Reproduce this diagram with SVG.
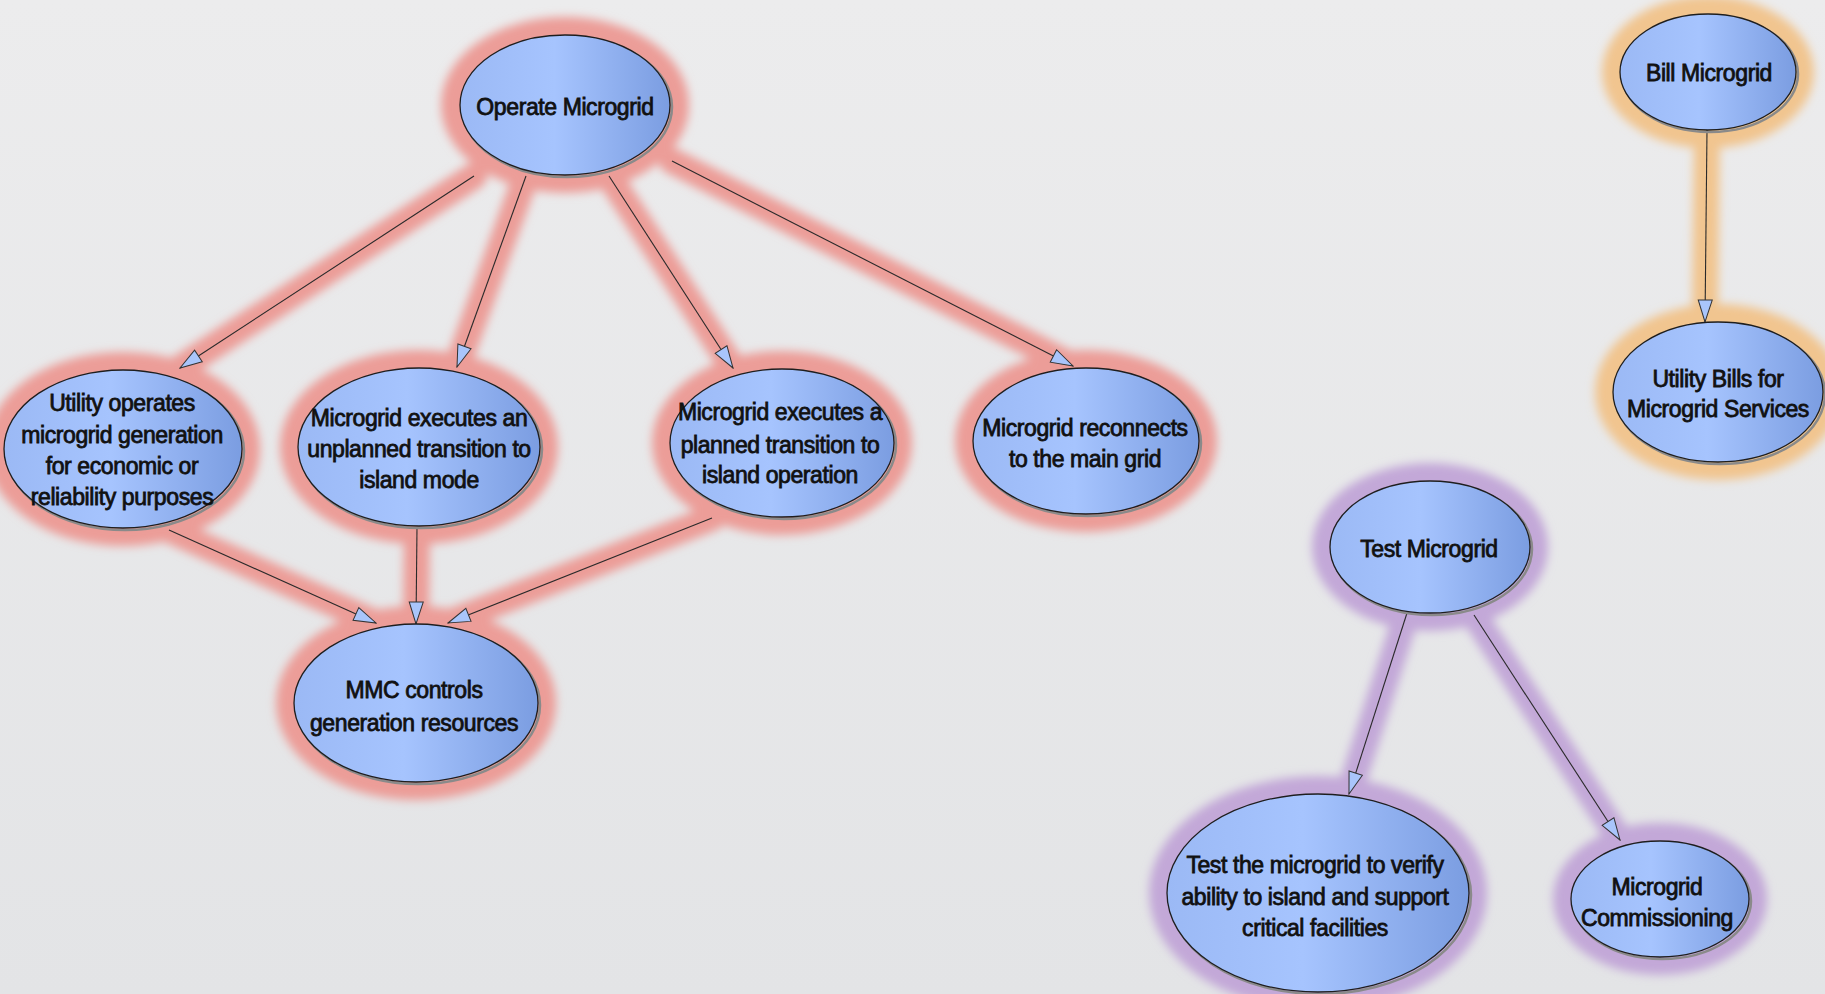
<svg xmlns="http://www.w3.org/2000/svg" width="1825" height="994" viewBox="0 0 1825 994">
<defs>
<linearGradient id="bg" x1="0" y1="0" x2="0" y2="1">
<stop offset="0" stop-color="#ececed"/>
<stop offset="1" stop-color="#e3e4e6"/>
</linearGradient>
<linearGradient id="fill" x1="0" y1="0" x2="1" y2="0">
<stop offset="0" stop-color="#9bb9f5"/>
<stop offset="0.45" stop-color="#a6c4fe"/>
<stop offset="1" stop-color="#7b9de1"/>
</linearGradient>
<filter id="blur" x="-20%" y="-20%" width="140%" height="140%">
<feGaussianBlur stdDeviation="5"/>
</filter>
<marker id="arr" viewBox="0 0 24 16" refX="23" refY="8" markerWidth="24" markerHeight="16" markerUnits="userSpaceOnUse" orient="auto">
<path d="M1,1 L23,8 L1,15 Z" fill="#a9c5fb" stroke="#333" stroke-width="1"/>
</marker>
<style>
.node{fill:url(#fill);stroke:#1e1e1e;stroke-width:1.3}
.sh{fill:none;stroke:#8a8a8a;stroke-width:2.5}
.edge{stroke:#2a2a2a;stroke-width:1.1;fill:none;marker-end:url(#arr)}
.t{font-family:"Liberation Sans",Arial,sans-serif;font-size:23px;letter-spacing:-0.4px;fill:#111;stroke:#111;stroke-width:0.8;text-anchor:middle}
.gr{fill:#ec9d98;stroke:#ec9d98}
.go{fill:#f1c58f;stroke:#f1c58f}
.gp{fill:#c3a8d8;stroke:#c3a8d8}
</style>
</defs>
<rect width="1825" height="994" fill="url(#bg)"/>

<!-- glows -->
<g id="glow-red" class="gr" filter="url(#blur)" stroke-width="26" stroke-linecap="round">
<line x1="474" y1="176" x2="180" y2="368"/>
<line x1="526" y1="176" x2="457" y2="367"/>
<line x1="609" y1="176" x2="733" y2="368"/>
<line x1="672" y1="161" x2="1073" y2="366"/>
<line x1="169" y1="530" x2="376" y2="623"/>
<line x1="417" y1="527" x2="416" y2="624"/>
<line x1="712" y1="518" x2="448" y2="623"/>
<ellipse cx="565" cy="105" rx="117" ry="81" stroke-width="14"/>
<ellipse cx="123" cy="449" rx="130" ry="90" stroke-width="14"/>
<ellipse cx="419" cy="447" rx="132" ry="90" stroke-width="14"/>
<ellipse cx="782" cy="443" rx="123" ry="85" stroke-width="14"/>
<ellipse cx="1086" cy="441" rx="124" ry="84" stroke-width="14"/>
<ellipse cx="416" cy="703" rx="133" ry="90" stroke-width="14"/>
</g>
<g id="glow-orange" class="go" filter="url(#blur)" stroke-width="26" stroke-linecap="round">
<line x1="1707" y1="130" x2="1705" y2="322"/>
<ellipse cx="1708" cy="72" rx="99" ry="69" stroke-width="14"/>
<ellipse cx="1718" cy="392" rx="116" ry="81" stroke-width="14"/>
</g>
<g id="glow-purple" class="gp" filter="url(#blur)" stroke-width="26" stroke-linecap="round">
<line x1="1407" y1="613" x2="1349" y2="794"/>
<line x1="1474" y1="615" x2="1620" y2="840"/>
<ellipse cx="1430" cy="547" rx="111" ry="77" stroke-width="14"/>
<ellipse cx="1318" cy="893" rx="162" ry="110" stroke-width="14"/>
<ellipse cx="1660" cy="899" rx="100" ry="69" stroke-width="14"/>
</g>

<!-- connectors -->
<g id="connectors">
<line class="edge" x1="474" y1="176" x2="180" y2="368"/>
<line class="edge" x1="526" y1="176" x2="457" y2="367"/>
<line class="edge" x1="609" y1="176" x2="733" y2="368"/>
<line class="edge" x1="672" y1="161" x2="1073" y2="366"/>
<line class="edge" x1="169" y1="530" x2="376" y2="623"/>
<line class="edge" x1="417" y1="527" x2="416" y2="624"/>
<line class="edge" x1="712" y1="518" x2="448" y2="623"/>
<line class="edge" x1="1707" y1="130" x2="1705" y2="322"/>
<line class="edge" x1="1407" y1="613" x2="1349" y2="794"/>
<line class="edge" x1="1474" y1="615" x2="1620" y2="840"/>
</g>

<!-- nodes -->
<g id="operate">
<ellipse class="sh" cx="567" cy="107" rx="105" ry="70"/>
<ellipse class="node" cx="565" cy="105" rx="105" ry="70"/>
<text class="t" x="565" y="115">Operate Microgrid</text>
</g>
<g id="utility-operates">
<ellipse class="sh" cx="125" cy="451" rx="119" ry="79"/>
<ellipse class="node" cx="123" cy="449" rx="119" ry="79"/>
<text class="t" x="122" y="411">Utility operates</text>
<text class="t" x="122" y="443">microgrid generation</text>
<text class="t" x="122" y="474">for economic or</text>
<text class="t" x="122" y="505">reliability purposes</text>
</g>
<g id="unplanned">
<ellipse class="sh" cx="421" cy="449" rx="121" ry="79"/>
<ellipse class="node" cx="419" cy="447" rx="121" ry="79"/>
<text class="t" x="419" y="426">Microgrid executes an</text>
<text class="t" x="419" y="457">unplanned transition to</text>
<text class="t" x="419" y="488">island mode</text>
</g>
<g id="planned">
<ellipse class="sh" cx="784" cy="445" rx="112" ry="74"/>
<ellipse class="node" cx="782" cy="443" rx="112" ry="74"/>
<text class="t" x="780" y="420">Microgrid executes a</text>
<text class="t" x="780" y="453">planned transition to</text>
<text class="t" x="780" y="483">island operation</text>
</g>
<g id="reconnects">
<ellipse class="sh" cx="1088" cy="443" rx="113" ry="73"/>
<ellipse class="node" cx="1086" cy="441" rx="113" ry="73"/>
<text class="t" x="1085" y="436">Microgrid reconnects</text>
<text class="t" x="1085" y="467">to the main grid</text>
</g>
<g id="mmc">
<ellipse class="sh" cx="418" cy="705" rx="122" ry="79"/>
<ellipse class="node" cx="416" cy="703" rx="122" ry="79"/>
<text class="t" x="414" y="698">MMC controls</text>
<text class="t" x="414" y="731">generation resources</text>
</g>
<g id="bill">
<ellipse class="sh" cx="1710" cy="74" rx="88" ry="58"/>
<ellipse class="node" cx="1708" cy="72" rx="88" ry="58"/>
<text class="t" x="1709" y="81">Bill Microgrid</text>
</g>
<g id="utility-bills">
<ellipse class="sh" cx="1720" cy="394" rx="105" ry="70"/>
<ellipse class="node" cx="1718" cy="392" rx="105" ry="70"/>
<text class="t" x="1718" y="387">Utility Bills for</text>
<text class="t" x="1718" y="417">Microgrid Services</text>
</g>
<g id="test">
<ellipse class="sh" cx="1432" cy="549" rx="100" ry="66"/>
<ellipse class="node" cx="1430" cy="547" rx="100" ry="66"/>
<text class="t" x="1429" y="557">Test Microgrid</text>
</g>
<g id="test-verify">
<ellipse class="sh" cx="1320" cy="895" rx="151" ry="99"/>
<ellipse class="node" cx="1318" cy="893" rx="151" ry="99"/>
<text class="t" x="1315" y="873">Test the microgrid to verify</text>
<text class="t" x="1315" y="905">ability to island and support</text>
<text class="t" x="1315" y="936">critical facilities</text>
</g>
<g id="commissioning">
<ellipse class="sh" cx="1662" cy="901" rx="89" ry="58"/>
<ellipse class="node" cx="1660" cy="899" rx="89" ry="58"/>
<text class="t" x="1657" y="895">Microgrid</text>
<text class="t" x="1657" y="926">Commissioning</text>
</g>
</svg>
